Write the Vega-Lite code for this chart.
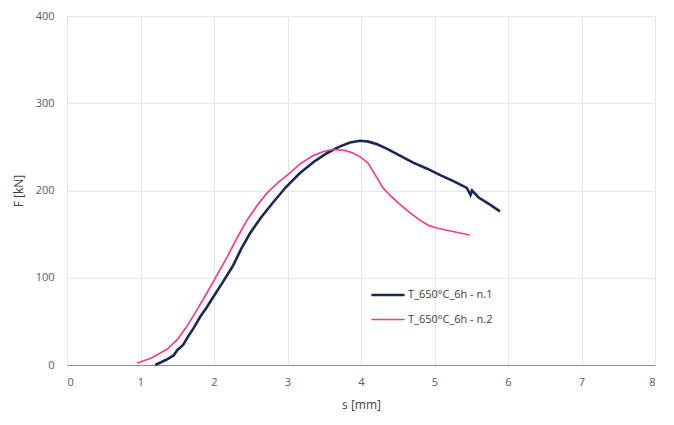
{
  "$schema": "https://vega.github.io/schema/vega-lite/v6.json",
  "width": 588,
  "height": 349,
  "autosize": {"type": "none"},
  "padding": {"left": 67, "top": 16, "right": 19, "bottom": 60},
  "background": "white",
  "config": {
    "font": "Open Sans",
    "view": {"stroke": "#bfbfbf", "strokeWidth": 1},
    "axis": {
      "gridColor": "#e6e6e6",
      "labelColor": "#595959",
      "titleColor": "#404040",
      "labelFontSize": 11,
      "titleFontSize": 12,
      "titleFontWeight": "normal",
      "ticks": false,
      "domainColor": "#8c8c8c"
    }
  },
  "data": {
    "values": [
      {"s": 1.2, "F": 0, "series": "T_650°C_6h - n.1"},
      {"s": 1.35, "F": 6, "series": "T_650°C_6h - n.1"},
      {"s": 1.45, "F": 11, "series": "T_650°C_6h - n.1"},
      {"s": 1.5, "F": 17, "series": "T_650°C_6h - n.1"},
      {"s": 1.58, "F": 23, "series": "T_650°C_6h - n.1"},
      {"s": 1.65, "F": 33, "series": "T_650°C_6h - n.1"},
      {"s": 1.72, "F": 42, "series": "T_650°C_6h - n.1"},
      {"s": 1.81, "F": 55, "series": "T_650°C_6h - n.1"},
      {"s": 1.9, "F": 66, "series": "T_650°C_6h - n.1"},
      {"s": 1.99, "F": 78, "series": "T_650°C_6h - n.1"},
      {"s": 2.12, "F": 95, "series": "T_650°C_6h - n.1"},
      {"s": 2.26, "F": 114, "series": "T_650°C_6h - n.1"},
      {"s": 2.37, "F": 133, "series": "T_650°C_6h - n.1"},
      {"s": 2.49, "F": 151, "series": "T_650°C_6h - n.1"},
      {"s": 2.64, "F": 169, "series": "T_650°C_6h - n.1"},
      {"s": 2.8, "F": 186, "series": "T_650°C_6h - n.1"},
      {"s": 2.98, "F": 204, "series": "T_650°C_6h - n.1"},
      {"s": 3.17, "F": 220, "series": "T_650°C_6h - n.1"},
      {"s": 3.36, "F": 233, "series": "T_650°C_6h - n.1"},
      {"s": 3.54, "F": 243, "series": "T_650°C_6h - n.1"},
      {"s": 3.7, "F": 250, "series": "T_650°C_6h - n.1"},
      {"s": 3.85, "F": 255, "series": "T_650°C_6h - n.1"},
      {"s": 3.99, "F": 257, "series": "T_650°C_6h - n.1"},
      {"s": 4.1, "F": 256, "series": "T_650°C_6h - n.1"},
      {"s": 4.22, "F": 253, "series": "T_650°C_6h - n.1"},
      {"s": 4.35, "F": 248, "series": "T_650°C_6h - n.1"},
      {"s": 4.53, "F": 240, "series": "T_650°C_6h - n.1"},
      {"s": 4.71, "F": 232, "series": "T_650°C_6h - n.1"},
      {"s": 4.9, "F": 225, "series": "T_650°C_6h - n.1"},
      {"s": 5.07, "F": 218, "series": "T_650°C_6h - n.1"},
      {"s": 5.25, "F": 211, "series": "T_650°C_6h - n.1"},
      {"s": 5.44, "F": 203, "series": "T_650°C_6h - n.1"},
      {"s": 5.51, "F": 200, "series": "T_650°C_6h - n.1"},
      {"s": 5.49, "F": 195, "series": "T_650°C_6h - n.1"},
      {"s": 5.6, "F": 192, "series": "T_650°C_6h - n.1"},
      {"s": 5.75, "F": 184, "series": "T_650°C_6h - n.1"},
      {"s": 5.89, "F": 176, "series": "T_650°C_6h - n.1"},
      {"s": 0.95, "F": 2, "series": "T_650°C_6h - n.2"},
      {"s": 1.15, "F": 8, "series": "T_650°C_6h - n.2"},
      {"s": 1.36, "F": 18, "series": "T_650°C_6h - n.2"},
      {"s": 1.5, "F": 29, "series": "T_650°C_6h - n.2"},
      {"s": 1.63, "F": 44, "series": "T_650°C_6h - n.2"},
      {"s": 1.76, "F": 62, "series": "T_650°C_6h - n.2"},
      {"s": 1.9, "F": 82, "series": "T_650°C_6h - n.2"},
      {"s": 2.04, "F": 103, "series": "T_650°C_6h - n.2"},
      {"s": 2.18, "F": 124, "series": "T_650°C_6h - n.2"},
      {"s": 2.31, "F": 145, "series": "T_650°C_6h - n.2"},
      {"s": 2.45, "F": 166, "series": "T_650°C_6h - n.2"},
      {"s": 2.58, "F": 182, "series": "T_650°C_6h - n.2"},
      {"s": 2.72, "F": 197, "series": "T_650°C_6h - n.2"},
      {"s": 2.87, "F": 209, "series": "T_650°C_6h - n.2"},
      {"s": 3.03, "F": 220, "series": "T_650°C_6h - n.2"},
      {"s": 3.18, "F": 231, "series": "T_650°C_6h - n.2"},
      {"s": 3.35, "F": 240, "series": "T_650°C_6h - n.2"},
      {"s": 3.5, "F": 245, "series": "T_650°C_6h - n.2"},
      {"s": 3.62, "F": 247, "series": "T_650°C_6h - n.2"},
      {"s": 3.78, "F": 246, "series": "T_650°C_6h - n.2"},
      {"s": 3.89, "F": 243, "series": "T_650°C_6h - n.2"},
      {"s": 4.0, "F": 238, "series": "T_650°C_6h - n.2"},
      {"s": 4.1, "F": 231, "series": "T_650°C_6h - n.2"},
      {"s": 4.2, "F": 217, "series": "T_650°C_6h - n.2"},
      {"s": 4.3, "F": 203, "series": "T_650°C_6h - n.2"},
      {"s": 4.4, "F": 194, "series": "T_650°C_6h - n.2"},
      {"s": 4.53, "F": 184, "series": "T_650°C_6h - n.2"},
      {"s": 4.66, "F": 175, "series": "T_650°C_6h - n.2"},
      {"s": 4.8, "F": 166, "series": "T_650°C_6h - n.2"},
      {"s": 4.92, "F": 160, "series": "T_650°C_6h - n.2"},
      {"s": 5.03, "F": 157, "series": "T_650°C_6h - n.2"},
      {"s": 5.25, "F": 153, "series": "T_650°C_6h - n.2"},
      {"s": 5.48, "F": 149, "series": "T_650°C_6h - n.2"}
    ]
  },
  "mark": {"type": "line"},
  "encoding": {
    "x": {
      "field": "s", "type": "quantitative",
      "scale": {"domain": [0, 8], "nice": false},
      "axis": {"title": "s [mm]", "tickCount": 8, "labelPadding": 11, "titlePadding": 12}
    },
    "y": {
      "field": "F", "type": "quantitative",
      "scale": {"domain": [0, 400], "nice": false},
      "axis": {"title": "F [kN]", "tickCount": 4, "labelPadding": 13, "titlePadding": 10, "domain": false}
    },
    "color": {
      "field": "series", "type": "nominal",
      "scale": {"domain": ["T_650°C_6h - n.1", "T_650°C_6h - n.2"], "range": ["#1c2753", "#f23d8c"]},
      "legend": {
        "title": null, "orient": "none", "legendX": 303, "legendY": 261,
        "symbolType": "stroke", "symbolSize": 1100,
        "labelFontSize": 11, "labelColor": "#404040", "rowPadding": 1, "labelOffset": 2
      }
    },
    "strokeWidth": {
      "field": "series", "type": "nominal",
      "scale": {"domain": ["T_650°C_6h - n.1", "T_650°C_6h - n.2"], "range": [2.6, 1.7]},
      "legend": null
    },
    "order": {"field": "s"}
  }
}
